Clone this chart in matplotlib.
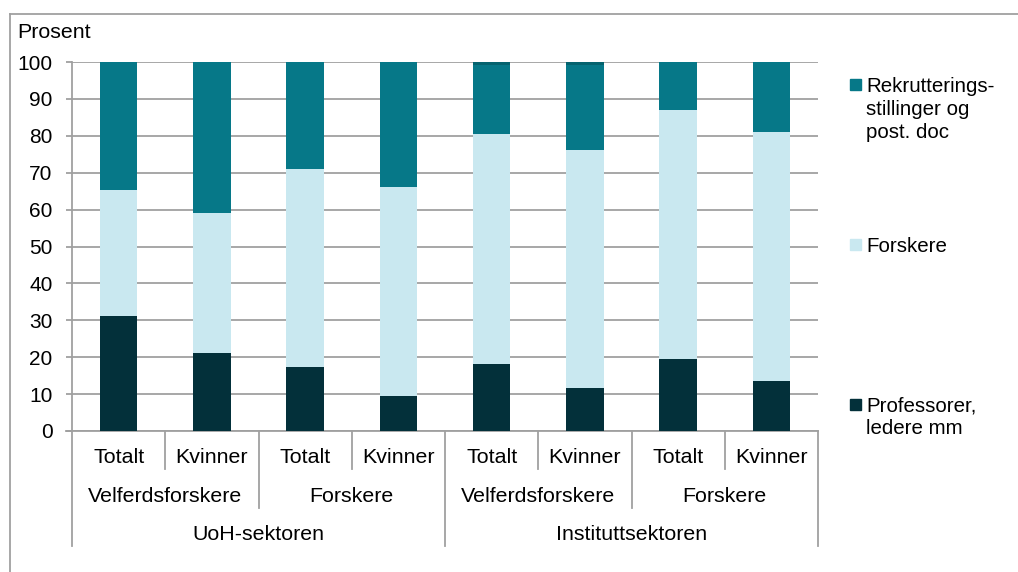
import numpy as np
import matplotlib.pyplot as plt
from matplotlib.patches import Rectangle
from matplotlib.transforms import blended_transform_factory

plt.rcParams['font.family'] = ['Liberation Sans', 'DejaVu Sans']

# data (percent)
groups = ["Totalt", "Kvinner", "Totalt", "Kvinner", "Totalt", "Kvinner", "Totalt", "Kvinner"]
roles = ["Velferdsforskere", "Forskere", "Velferdsforskere", "Forskere"]
sectors = ["UoH-sektoren", "Instituttsektoren"]

professorer = [31.2, 21.2, 17.3, 9.4, 18.1, 11.6, 19.6, 13.6]
forskere = [34.1, 37.9, 53.7, 56.7, 62.4, 64.6, 67.4, 67.3]
rekruttering = [34.7, 40.9, 29.0, 33.9, 18.7, 23.1, 13.0, 19.1]
rest = [0.0, 0.0, 0.0, 0.0, 0.8, 0.7, 0.0, 0.0]

series_labels = ["Professorer,\nledere mm", "Forskere", "Rekrutterings-\nstillinger og\npost. doc"]
c_dark = "#03303a"
c_light = "#c9e8f0"
c_teal = "#067888"
c_rest = "#05636f"
grey = "#a0a0a0"
fs = 15.4

W, H = 1018, 572
fig = plt.figure(figsize=(W / 100, H / 100), dpi=100)
ax = fig.add_axes([72 / W, 1 - 431 / H, (818 - 72) / W, (431 - 62) / H])

x = np.arange(len(groups))
bw = 0.4
b1 = np.array(professorer)
b2 = b1 + np.array(forskere)
b3 = b2 + np.array(rekruttering)
ax.bar(x, professorer, bw, color=c_dark, zorder=3)
ax.bar(x, forskere, bw, bottom=b1, color=c_light, zorder=3)
ax.bar(x, rekruttering, bw, bottom=b2, color=c_teal, zorder=3)
ax.bar(x, rest, bw, bottom=b3, color=c_rest, zorder=3)

ax.set_xlim(-0.5, len(groups) - 0.5)
ax.set_ylim(0, 100)
ax.set_yticks(np.arange(0, 101, 10))
ax.yaxis.grid(True, color=grey, lw=1.3, zorder=0)
ax.set_xticks([])
ax.tick_params(axis='y', length=4.5, width=1.3, color=grey, pad=9.5, labelsize=15)
for s in ["top", "right"]:
    ax.spines[s].set_visible(False)
for s in ["left", "bottom"]:
    ax.spines[s].set_color(grey)
    ax.spines[s].set_linewidth(1.3)
ax.spines["bottom"].set_bounds(-0.5 - 0.064, len(groups) - 0.5)

# multi-level category axis
tr = blended_transform_factory(ax.transData, ax.transAxes)
y1, y2, y3 = -0.104, -0.209, -0.313
for i in range(len(groups) + 1):
    xb = i - 0.5
    if i % 4 == 0:
        yb = y3
    elif i % 2 == 0:
        yb = y2
    else:
        yb = y1
    ax.plot([xb, xb], [0, yb], color=grey, lw=1.3, transform=tr, clip_on=False)
for i, g in enumerate(groups):
    ax.text(i, -0.072, g, transform=tr, ha='center', va='center', fontsize=fs)
for j, r in enumerate(roles):
    ax.text(2 * j + 0.5, -0.177, r, transform=tr, ha='center', va='center', fontsize=fs)
for k, s in enumerate(sectors):
    ax.text(4 * k + 1.5, -0.28, s, transform=tr, ha='center', va='center', fontsize=fs)

# outer frame (top and left only visible)
fig.add_artist(plt.Line2D([10 / W, 1], [1 - 14 / H, 1 - 14 / H], color=grey, lw=1.3))
fig.add_artist(plt.Line2D([10 / W, 10 / W], [0, 1 - 14 / H], color=grey, lw=1.3))

fig.text(17 / W, 1 - 23 / H, "Prosent", ha='left', va='top', fontsize=15.4)

# legend drawn by hand
leg_cols = [c_dark, c_light, c_teal]
leg_sq = [399, 239, 79]
leg_txt = [396, 237, 77]
for col, sq, ty, lab in zip(leg_cols, leg_sq, leg_txt, series_labels):
    fig.add_artist(Rectangle((850 / W, 1 - (sq + 10.5) / H), 10.5 / W, 10.5 / H,
                             transform=fig.transFigure, color=col))
    fig.text(866 / W, 1 - ty / H, lab, ha='left', va='top', fontsize=14.8, linespacing=1.28)

fig.savefig("out.png", dpi=100)
